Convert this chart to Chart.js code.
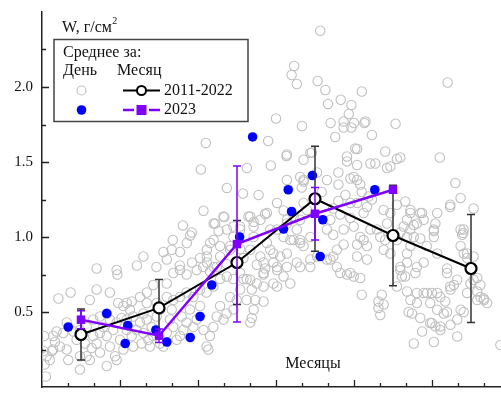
<!DOCTYPE html>
<html>
<head>
<meta charset="utf-8">
<script src="https://cdn.jsdelivr.net/npm/chart.js@4.4.1/dist/chart.umd.min.js"></script>
<style>
  html, body { margin: 0; padding: 0; overflow: hidden; background: #fff; }
  canvas { display: block; }
</style>
</head>
<body>
<canvas id="c" width="510" height="396"></canvas>
<script>
// Snow water equivalent W (g/cm²) over the season, x in days from season start.

// Daily values 2011-2022: [day, W]
const daily20112022 = [
  [6.3,.59],[11,.63],[21,.65],[18.4,.58],[26.1,.63],[29.3,.56],[32.6,.56],[34.5,.57],[37.7,.60],[40.3,.63],
  [42.8,.68],[48,.69],[50.5,.76],[53.1,.78],[55.6,.75],[59.5,.78],[62,.80],[64.6,.77],[67.2,.80],[71,.82],
  [76.2,.76],[78.7,.72],[29,.75],[21,.79],
  [5,.30],[3,.18],[1.8,.205],[6.9,.27],[4.3,.25],[9.5,.25],[10.1,.18],[13.3,.315],[14.6,.116],[14.6,.205],
  [16.5,.29],[17.2,.205],[18.4,.18],[19.1,.26],[19.7,.34],[21,.29],[22.3,.36],[22.3,.23],[23.6,.40],[24.9,.34],
  [24.9,.14],[26.1,.27],[27.4,.38],[28.1,.205],[28.7,.18],[30,.315],[30.6,.46],[31.3,.25],[32.6,.38],[33.8,.516],
  [34.5,.34],[35.1,.27],[36.4,.38],[37.7,.43],[38.3,.29],[39,.36],[40.3,.45],[40.9,.315],[41.5,.27],[42.2,.40],
  [42.8,.34],[44.1,.47],[45.4,.29],[46.7,.27],[48,.36],[49.2,.45],[49.9,.516],[50.5,.40],[51.8,.315],[53.1,.34],
  [53.7,.47],[54.4,.38],[55.6,.43],[56.9,.516],[58.2,.40],[59.5,.45],[60.8,.54],[62.1,.38],[63.3,.27],[64,.25],
  [64.6,.34],[65.9,.40],[67.2,.47],[68.5,.54],[69.8,.45],[71,.49],[72.3,.60],[73.6,.516],[74.9,.58],[76.2,.65],
  [77.5,.72],[78.7,.58],[73.6,.72],[68.5,.72],[65.9,.67],[63.3,.63],[60.8,.65],[58.2,.60],[55.6,.63],[53.1,.60],
  [50.5,.58],[48,.60],[45.4,.516],[44.1,.56],[40.3,.56],[39,.49],[35.1,.47],[32.6,.45],[31.3,.54],[28.7,.43],
  [26.1,.45],[24.9,.49],[22.3,.47],[19.7,.45],[17.2,.40],[14.6,.38],[12,.37],[9.5,.43],[8.2,.36],[5.6,.37],
  [4.3,.34],[1.0,.15],[1.5,.07],[0.6,.24],[3.8,.24],[0.8,.34],
  [63,1.627],[61.1,1.45],[71.1,1.327],[77.3,1.29],[78.8,1.46],[62.1,1.175],[66,1.09],[54.2,1.077],[70.1,1.133],[73.6,1.07],
  [57.6,1.03],[57,1.01],[50.3,.98],[67.9,1.04],[46.7,.90],[49.9,.915],[53.1,.90],[55.7,.96],[39,.87],[48,.85],
  [60.8,.86],[63.4,.915],[66,.98],[71.1,1.05],[73.6,1.0],[76.2,1.05],[79.4,1.137],[63.4,.83],[57.7,.83],[53,.81],
  [44,.80],[36.5,.81],[28.7,.78],[72.4,.94],[72.4,.915],[76.2,.92],[77.5,.86],
  [94,1.54],[88,1.477],[83.3,1.28],[92.9,1.177],[85.8,1.153],[80.1,1.137],[66.6,1.09],[69.8,1.137],[76.2,1.07],
  [81.4,1.10],[87.8,1.05],[98,1.05],[99.3,1.115],[92.9,1.0],[95.5,.98],[99.3,.96],[86.5,.96],[81.4,1.0],[80.1,.915],
  [84,.87],[89,.89],[94.2,.89],[90.4,.80],[85.2,.76],[80.1,.715],[92.9,.737],[99.3,.80],[95.5,.69],[89,.69],
  [85.2,.67],[68.5,.94],[64.7,.96],[63.4,.87],[66,.80],[71.1,.737],[68.5,.87],[101.9,1.18],[100.6,1.227],[103.2,1.56],
  [99.3,1.40],[100.6,1.37],[99.9,1.33],[94.2,1.38],[90.4,1.227],[94.2,1.115],[96.8,1.137],
  [107,2.375],[97,2.14],[96,2.08],[98,2.02],[106,2.04],[109,1.98],[123,1.97],[156,2.03],[114.9,1.915],[110,1.887],
  [119,1.88],[118,1.82],[90,1.79],[100,1.74],[111,1.76],[116,1.77],[120,1.76],[124,1.76],[136,1.755],[116,1.73],
  [87,1.64],[112.8,1.667],[120.5,1.59],[126.9,1.68],[124.4,1.77],[119,1.73],
  [132,1.57],[153,1.53],[121.2,1.587],[117.3,1.537],[117.3,1.504],[100.6,1.515],[103.8,1.564],[94.2,1.55],[126.3,1.49],
  [128.2,1.49],[134,1.47],[132.7,1.46],[137.8,1.53],[136.5,1.52],[121.2,1.48],[114,1.43],[109.6,1.38],[105.8,1.43],
  [100.6,1.38],[118.6,1.39],[119.9,1.40],[121.2,1.38],[122.4,1.35],[123,1.30],[114,1.35],[116.7,1.28],[125.6,1.27],
  [126.9,1.25],[118.6,1.227],[121.2,1.227],[123.7,1.16],[125,1.20],[114,1.24],[114.7,1.15],[112,1.19],[118.6,1.127],
  [119.9,1.07],[116,1.05],[112,1.015],[122.4,1.0],[125,.94],[121.2,.95],[116,.95],[113.4,.915],[109.6,1.05],
  [110.9,1.115],[107.6,1.30],[131.4,1.18],[134,1.16],[136.5,1.215],[139.7,1.237],[141.7,1.18],[140.4,1.115],[143,1.08],
  [141.7,1.05],[146.8,1.115],[146.2,1.16],[152,1.16],[151.3,1.09],[150.7,1.05],[145.5,.99],[148,.94],[152,.89],
  [157,1.20],[161,1.26],[159,1.36],[166,1.19],[162.2,1.05],[161.6,1.015],[161,.94],[163.5,.89],[166,.87],
  [128.8,1.05],[130.1,1.0],[126.3,1.05],[123.7,.98],[132.7,1.09],[132,.98],[136.5,.98],[137.8,1.03],[140.4,1.0],
  [134,.89],[131.4,.915],[86.5,1.16],[84,1.115],[81.4,1.07],[90.4,1.05],[94.2,1.09],[96.8,.98],[87.8,.915],
  [91.6,.87],[85.2,.83],[99.3,.98],[100.6,.94],[103.2,1.0],[105.8,.87],[109.6,.85],[112,.87],[121.2,.87],[125,.85],
  [98,.83],[103.2,.80],
  [82.6,.815],[85.8,.79],[89,.83],[90.4,.78],[85.2,.75],[82.6,.69],[80.7,.65],[90.4,.67],[82,.58],[85.2,.57],
  [81.4,.515],[80.7,.46],[80.1,.43],[94.2,.80],[103.2,.85],[110.9,.85],[113.4,.80],[117.3,.75],[114.7,.76],[118.6,.76],
  [119.9,.737],[122.4,.727],[123,.615],[130.7,.615],[129.4,.57],[131.4,.55],[129.4,.527],[130.1,.48],[136.5,.67],[138.4,.737],
  [137.8,.80],[140.4,.83],[144.2,.80],[146.8,.83],[143.6,.76],[140.4,.637],[141.7,.58],[144.2,.627],[146.8,.627],[148.1,.627],
  [150,.627],[152,.627],[141,.50],[142.3,.49],[145.5,.46],[144.2,.56],[149.3,.56],[152,.515],[155.1,.57],[155.8,.50],
  [150,.427],[151.3,.404],[153.2,.38],[146.2,.37],[143,.29],[150.7,.30],[159.7,.337],[162.2,.50],[157.1,.415],[158.4,.68],
  [155.8,.76],[159.7,.715],[157.1,.65],[163.5,.627],[167.4,.637],[170,.58],[171.2,.56],[168.6,.60],[164.8,.69],[167.4,.727],
  [176.3,.28],
  [157,1.215],[161,1.05],[162,1.027],[150.7,1.04],[150.7,1.0],[162.2,.89],[163.5,.86],[155.8,.79],[157,.67],[166,.715],
  [168.6,.68],[169.9,.59],[167.4,.58],[161,.515],[159.7,.45],[154.5,.49],[149.3,.427],[153.2,.404],[153.2,.60],[141.7,1.16],
  [145.5,1.16],[144.2,1.09],[143,1.0],[141.7,.94],[139.1,1.07],[140.4,.89],[137.8,.78],[139.7,.737]
];

// Daily values 2023: [day, W]
const daily2023 = [
  [10.1,.40],[24.9,.49],[33,.41],[32,.29],[43.8,.38],[48,.30],[57,.33],[60.8,.47],[65.3,.68],
  [76,1.0],[81,1.667],[92.9,1.053],[94.7,1.315],[96,1.17],[104,1.41],[108,1.115],[107,.87],[128,1.315]
];

// Monthly means (placed at mid-month) with standard deviations
const monthMid = [15, 45, 75, 105, 135, 165];
const monthMean20112022 = [0.35, 0.527, 0.83, 1.255, 1.01, 0.79];
const monthSd20112022   = [0.17, 0.19, 0.28, 0.35, 0.335, 0.36];
const monthMean2023 = [0.449, 0.342, 0.953, 1.155, 1.315];
const monthSd2023   = [0.06, 0.045, 0.52, 0.175, 0];

const yLabelValues = [0.5, 1.0, 1.5, 2.0];

const SERIF = "'Liberation Serif', 'Times New Roman', serif";
const PURPLE = '#8000ff';
const GRAY = '#c0c0c0';
const AXIS = '#222';

Chart.defaults.font.family = SERIF;

const toXY = arr => arr.map(p => ({ x: p[0], y: p[1] }));
const toMonthly = vals => vals.map((v, i) => ({ x: monthMid[i], y: v }));

function drawErrorBars(chart, means, sds, color) {
  const ctx = chart.ctx, xs = chart.scales.x, ys = chart.scales.y;
  ctx.save();
  ctx.strokeStyle = color;
  ctx.lineWidth = 1.5;
  means.forEach((m, i) => {
    const e = sds[i];
    if (!e) return;
    const x = xs.getPixelForValue(monthMid[i]);
    const yt = ys.getPixelForValue(m + e);
    const yb = ys.getPixelForValue(m - e);
    ctx.beginPath();
    ctx.moveTo(x, yt); ctx.lineTo(x, yb);
    ctx.moveTo(x - 4, yt); ctx.lineTo(x + 4, yt);
    ctx.moveTo(x - 4, yb); ctx.lineTo(x + 4, yb);
    ctx.stroke();
  });
  ctx.restore();
}

const decor = {
  id: 'decor',
  beforeDatasetsDraw(chart) {
    // inward tick marks on both axes
    const ctx = chart.ctx, xs = chart.scales.x, ys = chart.scales.y;
    const a = chart.chartArea;
    ctx.save();
    ctx.strokeStyle = AXIS;
    ctx.lineWidth = 1.3;
    ctx.beginPath();
    for (let v = 0.25; v < 2.5 - 1e-9; v += 0.25) {
      const y = Math.round(ys.getPixelForValue(v)) + 0.5;
      const major = Math.abs(v * 2 - Math.round(v * 2)) < 1e-6;
      ctx.moveTo(a.left, y); ctx.lineTo(a.left + (major ? 7 : 4), y);
    }
    for (let d = 10; d < 180; d += 10) {
      const x = Math.round(xs.getPixelForValue(d)) + 0.5;
      const major = d % 30 === 0;
      ctx.moveTo(x, a.bottom); ctx.lineTo(x, a.bottom - (major ? 7 : 4));
    }
    ctx.stroke();
    ctx.restore();
  },
  beforeDatasetDraw(chart, args) {
    const id = chart.data.datasets[args.index].id;
    if (id === 'm1') drawErrorBars(chart, monthMean20112022, monthSd20112022, '#333');
    if (id === 'm2') drawErrorBars(chart, monthMean2023, monthSd2023, PURPLE);
  },
  afterDraw(chart) {
    const ctx = chart.ctx;
    ctx.save();
    ctx.fillStyle = '#111';
    ctx.textBaseline = 'alphabetic';
    ctx.textAlign = 'left';
    // axis title
    ctx.font = '16px ' + SERIF;
    ctx.fillText('W, г/см', 62, 31.5);
    const w = ctx.measureText('W, г/см').width;
    ctx.font = '10px ' + SERIF;
    ctx.fillText('2', 62 + w + 0.5, 24);
    ctx.font = '16px ' + SERIF;
    ctx.textAlign = 'center';
    ctx.fillText('Месяцы', 313, 367.5);

    // legend box
    ctx.fillStyle = '#fff';
    ctx.fillRect(54, 39.5, 194, 82);
    ctx.strokeStyle = '#444';
    ctx.lineWidth = 1.5;
    ctx.strokeRect(54, 39.5, 194, 82);
    ctx.fillStyle = '#111';
    ctx.textAlign = 'left';
    ctx.font = '16px ' + SERIF;
    ctx.fillText('Среднее за:', 63, 57);
    ctx.fillText('День', 63, 75);
    ctx.fillText('Месяц', 117, 75);
    ctx.textBaseline = 'middle';
    ctx.fillText('2011-2022', 164, 91);
    ctx.fillText('2023', 164, 110);

    // legend symbols
    ctx.beginPath();
    ctx.arc(81.5, 90.5, 4.5, 0, Math.PI * 2);
    ctx.strokeStyle = GRAY; ctx.lineWidth = 1.2; ctx.stroke();
    ctx.beginPath();
    ctx.arc(81.5, 110, 4.8, 0, Math.PI * 2);
    ctx.fillStyle = '#0000ff'; ctx.fill();

    ctx.strokeStyle = '#000'; ctx.lineWidth = 2;
    ctx.beginPath(); ctx.moveTo(123, 90.5); ctx.lineTo(160, 90.5); ctx.stroke();
    ctx.beginPath(); ctx.arc(141.5, 90.5, 4.5, 0, Math.PI * 2);
    ctx.fillStyle = '#fff'; ctx.fill(); ctx.stroke();

    ctx.strokeStyle = PURPLE; ctx.lineWidth = 2.5;
    ctx.beginPath();
    ctx.moveTo(123, 110); ctx.lineTo(134, 110);
    ctx.moveTo(149, 110); ctx.lineTo(160, 110);
    ctx.stroke();
    ctx.fillStyle = PURPLE;
    ctx.fillRect(136.5, 105, 10, 10);
    ctx.restore();
  }
};

new Chart(document.getElementById('c'), {
  type: 'scatter',
  data: {
    datasets: [
      {
        id: 'm2', type: 'line', order: 1,
        data: toMonthly(monthMean2023),
        borderColor: PURPLE, borderWidth: 2.5,
        pointStyle: 'rect', pointRadius: 6, pointHoverRadius: 6,
        pointBackgroundColor: PURPLE, pointBorderColor: PURPLE, pointBorderWidth: 0,
        showLine: true, tension: 0
      },
      {
        id: 'm1', type: 'line', order: 2,
        data: toMonthly(monthMean20112022),
        borderColor: '#000', borderWidth: 2,
        pointStyle: 'circle', pointRadius: 5.5, pointHoverRadius: 5.5,
        pointBackgroundColor: '#fff', pointBorderColor: '#000', pointBorderWidth: 2.2,
        showLine: true, tension: 0
      },
      {
        id: 'd2', order: 3,
        data: toXY(daily2023),
        pointStyle: 'circle', pointRadius: 4.8, pointHoverRadius: 4.8,
        pointBackgroundColor: '#0000ff', pointBorderColor: '#0000ff', pointBorderWidth: 0
      },
      {
        id: 'd1', order: 4,
        data: toXY(daily20112022),
        pointStyle: 'circle', pointRadius: 4.7, pointHoverRadius: 4.7,
        pointBackgroundColor: 'rgba(0,0,0,0)', pointBorderColor: GRAY, pointBorderWidth: 1.1
      }
    ]
  },
  options: {
    responsive: false,
    animation: false,
    events: [],
    layout: { padding: { top: 12, right: 0, bottom: 0, left: 0 }, autoPadding: false },
    plugins: { legend: { display: false }, tooltip: { enabled: false } },
    scales: {
      x: {
        type: 'linear', min: 0, max: 180,
        grid: { display: false, drawTicks: false },
        border: { display: true, color: AXIS, width: 1.5 },
        ticks: { display: false, stepSize: 10 },
        afterFit(s) { s.height = 9; s.paddingLeft = 0; s.paddingRight = 0; }
      },
      y: {
        type: 'linear', min: 0, max: 2.5,
        grid: { display: false, drawTicks: false },
        border: { display: true, color: AXIS, width: 1.5 },
        ticks: {
          stepSize: 0.25, autoSkip: false, padding: 9,
          color: '#111', font: { size: 15, family: SERIF },
          callback: v => yLabelValues.some(l => Math.abs(l - v) < 1e-6) ? v.toFixed(1) : ''
        },
        afterFit(s) { s.width = 42; s.paddingTop = 0; s.paddingBottom = 0; }
      }
    }
  },
  plugins: [decor]
});
</script>
</body>
</html>
